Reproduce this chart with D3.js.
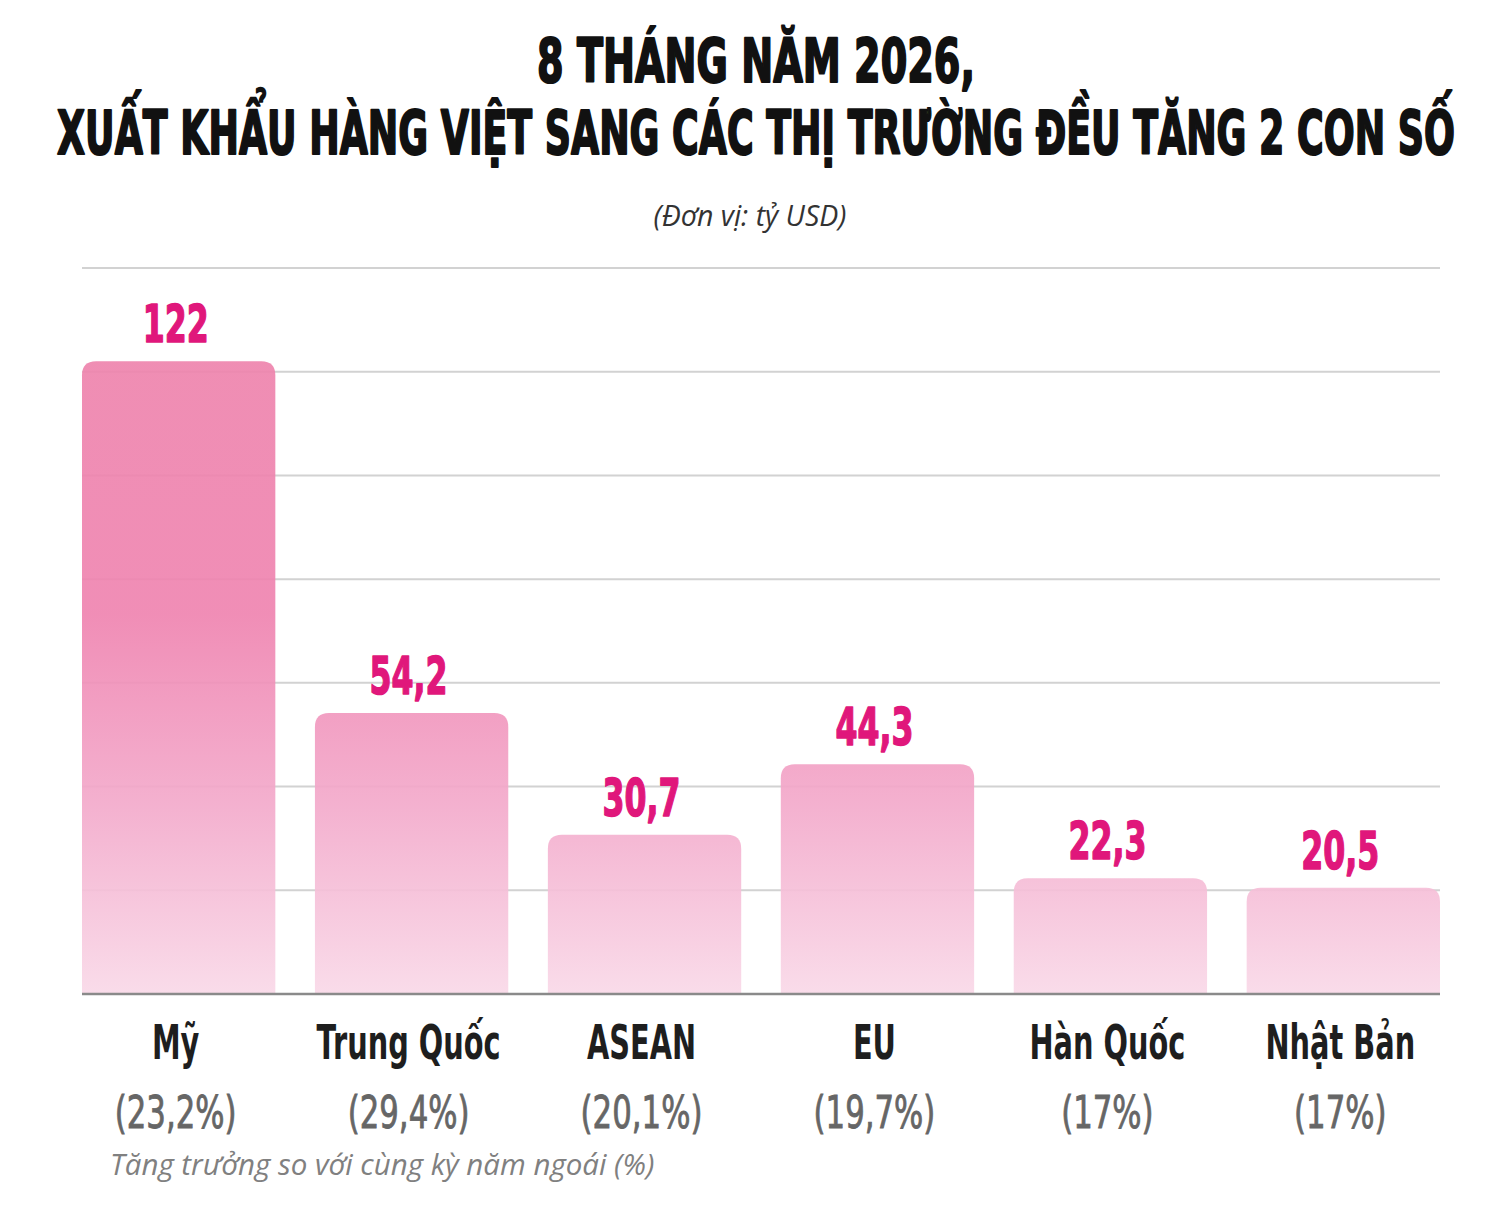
<!DOCTYPE html>
<html>
<head>
<meta charset="utf-8">
<script src="https://cdn.jsdelivr.net/npm/d3@7"></script>
<style>
  html, body { margin: 0; padding: 0; background: #fff; }
  svg { display: block; }
</style>
</head>
<body>
<svg id="chart"></svg>
<script>
// du lieu doc tu hinh
const markets = ["Mỹ", "Trung Quốc", "ASEAN", "EU", "Hàn Quốc", "Nhật Bản"];
const values = [122, 54.2, 30.7, 44.3, 22.3, 20.5];
const growth = ["(23,2%)", "(29,4%)", "(20,1%)", "(19,7%)", "(17%)", "(17%)"];
const gridTicks = [0, 20, 40, 60, 80, 100, 120, 140];

const titleLines = ["8 THÁNG NĂM 2026,", "XUẤT KHẨU HÀNG VIỆT SANG CÁC THỊ TRƯỜNG ĐỀU TĂNG 2 CON SỐ"];
const unitText = "(Đơn vị: tỷ USD)";
const noteText = "Tăng trưởng so với cùng kỳ năm ngoái (%)";

const width = 1500;
const height = 1207;
const plotLeft = 82, plotRight = 1440, plotTop = 268, plotBottom = 994;

let svg = d3.select("#chart")
  .attr("width", width)
  .attr("height", height);

let xScale = d3.scaleBand()
  .domain(markets)
  .range([plotLeft, plotRight])
  .paddingInner(0.17)
  .paddingOuter(0);

let yScale = d3.scaleLinear()
  .domain([0, 140])
  .range([plotBottom, plotTop]);

const fmt = (v) => String(v).replace(".", ",");

// gradient cho cot
let defs = svg.append("defs");
let grad = defs.append("linearGradient")
  .attr("id", "barGrad")
  .attr("gradientUnits", "userSpaceOnUse")
  .attr("x1", 0).attr("x2", 0)
  .attr("y1", yScale(122)).attr("y2", yScale(0));
grad.append("stop").attr("offset", "0%").attr("stop-color", "#ee84ad");
grad.append("stop").attr("offset", "40%").attr("stop-color", "#ef84b0");
grad.append("stop").attr("offset", "70%").attr("stop-color", "#f3aacb");
grad.append("stop").attr("offset", "100%").attr("stop-color", "#f9d9e8");

// tieu de: do do dai roi co ngang cho khop
let titleWidths = [438, 1398];
let titleY = [82, 154];
let title = svg.append("g").attr("id", "title");
titleLines.forEach((line, i) => {
  let t = title.append("text")
    .text(line)
    .attr("text-anchor", "middle")
    .style("font-family", "DejaVu Sans")
    .style("font-weight", "bold")
    .style("font-size", "60px")
    .attr("fill", "#111")
    .attr("stroke", "#111")
    .attr("stroke-width", 2.2)
    .attr("stroke-linejoin", "round");
  let len = t.node().getComputedTextLength();
  t.attr("transform", "translate(756," + titleY[i] + ") scale(" + (titleWidths[i] / len) + ",1)");
});

svg.append("text")
  .text(unitText)
  .attr("x", width / 2).attr("y", 226)
  .attr("text-anchor", "middle")
  .style("font-family", "Open Sans")
  .style("font-style", "italic")
  .style("font-size", "28.5px")
  .attr("fill", "#333");

// luoi
svg.append("g")
  .selectAll("line")
  .data(gridTicks.filter((d) => d > 0))
  .enter()
  .append("line")
  .attr("x1", plotLeft).attr("x2", plotRight)
  .attr("y1", (d) => yScale(d)).attr("y2", (d) => yScale(d))
  .attr("stroke", "#d2d2d2")
  .attr("stroke-width", 2);

// cot bo tron goc tren
let r = 14;
let barPath = (d, i) => {
  let x0 = xScale(markets[i]);
  let x1 = x0 + xScale.bandwidth();
  let y0 = yScale(d);
  let y1 = yScale(0);
  return "M" + x0 + "," + y1 +
    "V" + (y0 + r) +
    "Q" + x0 + "," + y0 + " " + (x0 + r) + "," + y0 +
    "H" + (x1 - r) +
    "Q" + x1 + "," + y0 + " " + x1 + "," + (y0 + r) +
    "V" + y1 + "Z";
};

svg.append("g")
  .selectAll("path")
  .data(values)
  .enter()
  .append("path")
  .attr("class", "bar")
  .attr("d", barPath)
  .attr("fill", "url(#barGrad)")
  .attr("fill-opacity", 0.92);

// duong goc
svg.append("line")
  .attr("x1", plotLeft).attr("x2", plotRight)
  .attr("y1", yScale(0)).attr("y2", yScale(0))
  .attr("stroke", "#8a8a8a")
  .attr("stroke-width", 2.5);

let cx = (i) => xScale(markets[i]) + xScale.bandwidth() / 2;

// nhan gia tri
svg.append("g")
  .selectAll("text")
  .data(values)
  .enter()
  .append("text")
  .text((d) => fmt(d))
  .attr("text-anchor", "middle")
  .attr("transform", (d, i) => "translate(" + (cx(i) - 3) + "," + (yScale(d) - 19) + ") scale(0.62,1)")
  .style("font-family", "DejaVu Sans")
  .style("font-weight", "bold")
  .style("font-size", "51px")
  .attr("fill", "#e0177b")
  .attr("stroke", "#e0177b")
  .attr("stroke-width", 1.6)
  .attr("stroke-linejoin", "round");

// ten thi truong
svg.append("g")
  .selectAll("text")
  .data(markets)
  .enter()
  .append("text")
  .text((d) => d)
  .attr("text-anchor", "middle")
  .attr("transform", (d, i) => "translate(" + (cx(i) - 3) + ",1059) scale(0.6,1)")
  .style("font-family", "DejaVu Sans")
  .style("font-weight", "bold")
  .style("font-size", "48px")
  .attr("fill", "#1e1e1e");

// tang truong
svg.append("g")
  .selectAll("text")
  .data(growth)
  .enter()
  .append("text")
  .text((d) => d)
  .attr("text-anchor", "middle")
  .attr("transform", (d, i) => "translate(" + (cx(i) - 3) + ",1128) scale(0.7,1)")
  .style("font-family", "DejaVu Sans")
  .style("font-size", "44px")
  .attr("fill", "#666")
  .attr("stroke", "#666")
  .attr("stroke-width", 0.9);

svg.append("text")
  .text(noteText)
  .attr("x", 110).attr("y", 1175)
  .style("font-family", "Open Sans")
  .style("font-style", "italic")
  .style("font-size", "29.5px")
  .attr("fill", "#808080");
</script>
</body>
</html>
